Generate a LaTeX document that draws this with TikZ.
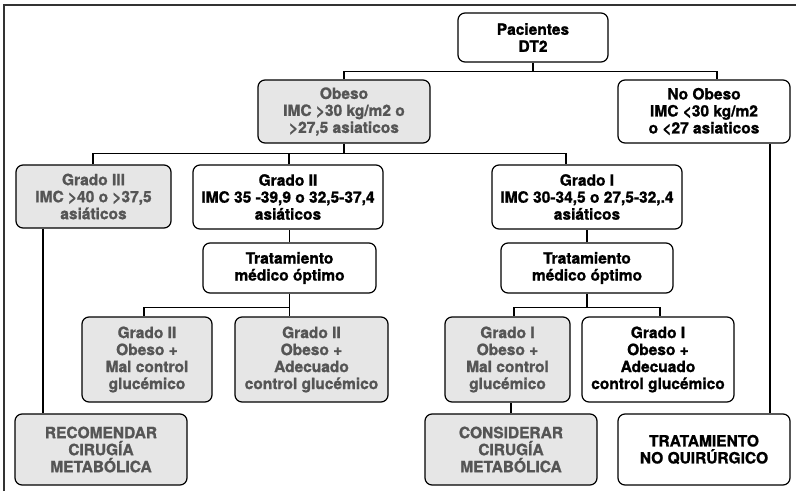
\documentclass[tikz,border=0pt]{standalone}
\usepackage{fontspec}
\setmainfont{TeX Gyre Heros}[BoldFeatures={FakeBold=1.2}]
\definecolor{boxgray}{RGB}{230,230,230}
\definecolor{txtgray}{RGB}{85,85,85}
\begin{document}
\begin{tikzpicture}[x=1pt,y=-1pt,
  box/.style={draw=black,line width=1.2pt,rounded corners=7pt,align=center,inner sep=0pt,
    font=\bfseries\fontsize{15.5}{17}\selectfont},
  wbox/.style={box,fill=white,text=black},
  gbox/.style={box,fill=boxgray,text=txtgray},
  link/.style={line width=1.2pt}]
\useasboundingbox (0,0) rectangle (796,491);
\draw [line width=1.6pt,draw=black!80] (4,491) -- (4,5) -- (796,5);
% top level
\node[wbox,minimum width=150,minimum height=49] (pac) at (533,37.5) {Pacientes\\DT2};
\node[gbox,minimum width=172,minimum height=63] (obeso) at (344,111.5) {Obeso\\IMC >30 kg/m2 o\\>27,5 asiaticos};
\node[wbox,minimum width=172,minimum height=63] (noobeso) at (704,111.5) {No Obeso\\IMC <30 kg/m2\\o <27 asiaticos};
% grados
\node[gbox,minimum width=155,minimum height=63] (grado3) at (93.5,196.5) {Grado III\\IMC >40 o >37,5\\asiáticos};
\node[wbox,minimum width=190,minimum height=64] (grado2) at (288,197) {Grado II\\IMC 35 -39,9 o 32,5-37,4\\asiáticos};
\node[wbox,minimum width=190,minimum height=64] (grado1) at (587,197) {Grado I\\IMC 30-34,5 o 27,5-32,.4\\asiáticos};
% tratamiento
\node[wbox,minimum width=173,minimum height=50] (trat2) at (289.5,268) {Tratamiento\\médico óptimo};
\node[wbox,minimum width=172,minimum height=50] (trat1) at (587,268) {Tratamiento\\médico óptimo};
% control glucemico
\node[gbox,minimum width=130,minimum height=85] (g2mal) at (147,359.5) {Grado II\\Obeso +\\Mal control\\glucémico};
\node[gbox,minimum width=153,minimum height=85] (g2adec) at (311.5,359.5) {Grado II\\Obeso +\\Adecuado\\control glucémico};
\node[gbox,minimum width=125,minimum height=85] (g1mal) at (507.5,359.5) {Grado I\\Obeso +\\Mal control\\glucémico};
\node[wbox,minimum width=152,minimum height=85] (g1adec) at (658,359.5) {Grado I\\Obeso +\\Adecuado\\control glucémico};
% decisiones
\node[gbox,minimum width=172,minimum height=71] (recom) at (101,449.5) {RECOMENDAR\\CIRUGÍA\\METABÓLICA};
\node[gbox,minimum width=172,minimum height=71] (consid) at (511,449.5) {CONSIDERAR\\CIRUGÍA\\METABÓLICA};
\node[wbox,minimum width=172,minimum height=71] (tratnq) at (704,449.5) {TRATAMIENTO\\NO QUIRÚRGICO};
% connectors
\draw[link] (pac.south) -- ++(0,9) coordinate (j1);
\draw[link] (obeso.north) |- (j1) -| ([xshift=13pt]noobeso.north);
\draw[link] (obeso.south) -- ++(0,10) coordinate (j2);
\draw[link] ([xshift=-0.5pt]grado3.north) |- (j2) -| ([xshift=-21pt]grado1.north);
\draw[link] ([xshift=1pt]grado2.north) -- ([xshift=1pt]grado2.north |- j2);
\draw[link] ([xshift=-50.5pt]grado3.south) -- ([xshift=-50.5pt]grado3.south |- recom.north);
\draw[link] ([xshift=66pt]noobeso.south) -- ([xshift=66pt]noobeso.south |- tratnq.north);
\draw[link] (trat2.north) -- (trat2.north |- grado2.south);
\draw[link] (trat1.north) -- (trat1.north |- grado1.south);
\draw[link] (trat2.south) -- ++(0,14) coordinate (j3);
\draw[link] ([xshift=-3pt]g2mal.north) |- (j3) -- (j3 |- g2adec.north);
\draw[link] (trat1.south) -- ++(0,14) coordinate (j4);
\draw[link] ([xshift=6.5pt]g1mal.north) |- (j4) -| ([xshift=2pt]g1adec.north);
\draw[link] (consid.north) -- (consid.north |- g1mal.south);
\end{tikzpicture}
\end{document}
